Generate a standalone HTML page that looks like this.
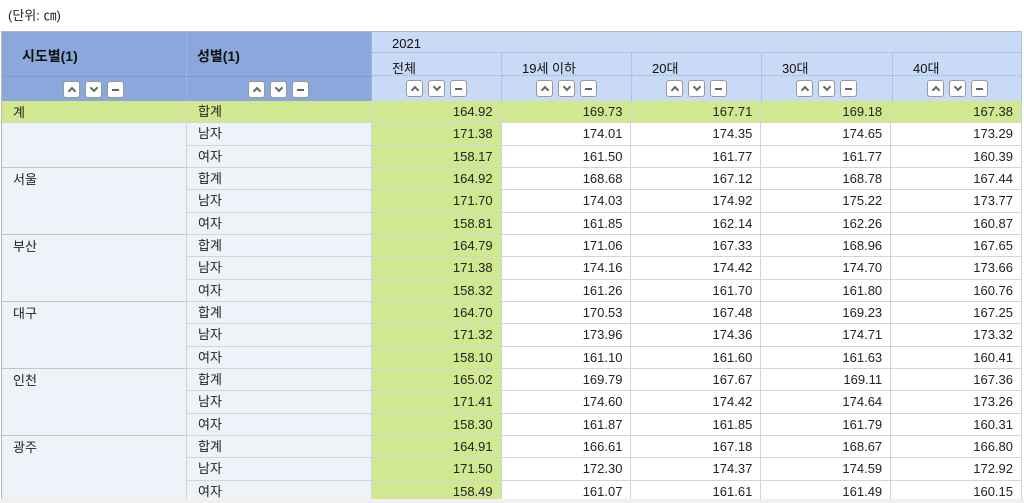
<!DOCTYPE html>
<html><head><meta charset="utf-8"><style>
*{box-sizing:border-box;margin:0;padding:0}
body{width:1024px;height:503px;overflow:hidden;background:#fff;font-family:"Liberation Sans","Noto Sans CJK KR",sans-serif;font-size:13px;color:#222;position:relative}
.unit{position:absolute;left:8px;top:5px;font-size:13px}
.a{position:absolute}
.hd{background:#8aa8dc;border-right:1px solid #a0b4d8;font-weight:bold;font-size:14px;color:#111}
.lh{background:#c9daf6;border-right:1px dotted #9aaed0;font-size:13px;color:#111}
.btns{position:absolute;top:4px;display:flex;gap:5px}
.btns span{position:relative;width:17px;height:17px;background:#fff;border:1px solid #999;border-radius:3px}
.btns span.u::after{content:"";position:absolute;left:5px;top:6px;width:4px;height:4px;border-left:2px solid #666;border-top:2px solid #666;transform:rotate(45deg)}
.btns span.d::after{content:"";position:absolute;left:5px;top:3px;width:4px;height:4px;border-right:2px solid #666;border-bottom:2px solid #666;transform:rotate(45deg)}
.btns span.m::after{content:"";position:absolute;left:4px;top:7px;width:7px;height:2px;background:#666}
.row{position:absolute;left:187px;height:22.33px;display:flex;width:835px}
.row div{height:100%;border-bottom:1px solid #d4d4d4;border-right:1px solid #d4d4d4;line-height:22px;padding-right:8px;text-align:right}
.row div:first-child{text-align:left;padding-left:11px;background:#eef3fa;width:185px}
.row div:nth-child(2){background:#d0e890;width:130px}
.row div:nth-child(3),.row div:nth-child(4),.row div:nth-child(5){width:130px}
.row div:nth-child(6){width:131px}
.row div:nth-child(7){width:129px}
.row.g div{background:#d0e890}
.c1{position:absolute;left:2px;width:185px;height:67px;background:#eef3fa;border-bottom:1px solid #c4c4c4;border-right:1px solid #d4d4d4;padding-left:11px;line-height:23px}
</style></head><body>
<div class="unit">(단위: ㎝)</div>
<div class="a" style="left:2px;top:31px;width:1020px;height:1px;background:#b8b8b8"></div>
<div class="a hd" style="left:2px;top:32px;width:185px;height:44px;padding:14px 0 0 20px">시도별(1)</div>
<div class="a hd" style="left:187px;top:32px;width:185px;height:44px;padding:14px 0 0 10px">성별(1)</div>
<div class="a hd" style="left:2px;top:76px;width:185px;height:25px;border-top:1px dotted #6f8fc8"><div class="btns" style="left:61px"><span class="u"></span><span class="d"></span><span class="m"></span></div></div>
<div class="a hd" style="left:187px;top:76px;width:185px;height:25px;border-top:1px dotted #6f8fc8"><div class="btns" style="left:61px"><span class="u"></span><span class="d"></span><span class="m"></span></div></div>
<div class="a lh" style="left:372px;top:32px;width:650px;height:21px;padding:4px 0 0 20px;border-bottom:1px dotted #9aaed0">2021</div>
<div class="a lh" style="left:372px;top:53px;width:130px;height:23px;padding:5px 0 0 20px;border-bottom:1px dotted #9aaed0">전체</div>
<div class="a lh" style="left:502px;top:53px;width:130px;height:23px;padding:5px 0 0 20px;border-bottom:1px dotted #9aaed0">19세 이하</div>
<div class="a lh" style="left:632px;top:53px;width:130px;height:23px;padding:5px 0 0 20px;border-bottom:1px dotted #9aaed0">20대</div>
<div class="a lh" style="left:762px;top:53px;width:131px;height:23px;padding:5px 0 0 20px;border-bottom:1px dotted #9aaed0">30대</div>
<div class="a lh" style="left:893px;top:53px;width:129px;height:23px;padding:5px 0 0 20px;border-bottom:1px dotted #9aaed0">40대</div>
<div class="a lh" style="left:372px;top:76px;width:130px;height:25px"><div class="btns" style="left:34px"><span class="u"></span><span class="d"></span><span class="m"></span></div></div>
<div class="a lh" style="left:502px;top:76px;width:130px;height:25px"><div class="btns" style="left:34px"><span class="u"></span><span class="d"></span><span class="m"></span></div></div>
<div class="a lh" style="left:632px;top:76px;width:130px;height:25px"><div class="btns" style="left:34px"><span class="u"></span><span class="d"></span><span class="m"></span></div></div>
<div class="a lh" style="left:762px;top:76px;width:131px;height:25px"><div class="btns" style="left:34px"><span class="u"></span><span class="d"></span><span class="m"></span></div></div>
<div class="a lh" style="left:893px;top:76px;width:129px;height:25px"><div class="btns" style="left:34px"><span class="u"></span><span class="d"></span><span class="m"></span></div></div>

<div class="c1" style="top:101px"></div>
<div class="c1" style="top:101px;height:22.33px;background:#d0e890;border-bottom:1px solid #d4d4d4">계</div>
<div class="c1" style="top:168px">서울</div>
<div class="c1" style="top:235px">부산</div>
<div class="c1" style="top:302px">대구</div>
<div class="c1" style="top:369px">인천</div>
<div class="c1" style="top:436px">광주</div>

<div class="row g" style="top:101px"><div>합계</div><div>164.92</div><div>169.73</div><div>167.71</div><div>169.18</div><div>167.38</div></div>
<div class="row" style="top:123.33px"><div>남자</div><div>171.38</div><div>174.01</div><div>174.35</div><div>174.65</div><div>173.29</div></div>
<div class="row" style="top:145.67px"><div>여자</div><div>158.17</div><div>161.50</div><div>161.77</div><div>161.77</div><div>160.39</div></div>
<div class="row" style="top:168px"><div>합계</div><div>164.92</div><div>168.68</div><div>167.12</div><div>168.78</div><div>167.44</div></div>
<div class="row" style="top:190.33px"><div>남자</div><div>171.70</div><div>174.03</div><div>174.92</div><div>175.22</div><div>173.77</div></div>
<div class="row" style="top:212.67px"><div>여자</div><div>158.81</div><div>161.85</div><div>162.14</div><div>162.26</div><div>160.87</div></div>
<div class="row" style="top:235px"><div>합계</div><div>164.79</div><div>171.06</div><div>167.33</div><div>168.96</div><div>167.65</div></div>
<div class="row" style="top:257.33px"><div>남자</div><div>171.38</div><div>174.16</div><div>174.42</div><div>174.70</div><div>173.66</div></div>
<div class="row" style="top:279.67px"><div>여자</div><div>158.32</div><div>161.26</div><div>161.70</div><div>161.80</div><div>160.76</div></div>
<div class="row" style="top:302px"><div>합계</div><div>164.70</div><div>170.53</div><div>167.48</div><div>169.23</div><div>167.25</div></div>
<div class="row" style="top:324.33px"><div>남자</div><div>171.32</div><div>173.96</div><div>174.36</div><div>174.71</div><div>173.32</div></div>
<div class="row" style="top:346.67px"><div>여자</div><div>158.10</div><div>161.10</div><div>161.60</div><div>161.63</div><div>160.41</div></div>
<div class="row" style="top:369px"><div>합계</div><div>165.02</div><div>169.79</div><div>167.67</div><div>169.11</div><div>167.36</div></div>
<div class="row" style="top:391.33px"><div>남자</div><div>171.41</div><div>174.60</div><div>174.42</div><div>174.64</div><div>173.26</div></div>
<div class="row" style="top:413.67px"><div>여자</div><div>158.30</div><div>161.87</div><div>161.85</div><div>161.79</div><div>160.31</div></div>
<div class="row" style="top:436px"><div>합계</div><div>164.91</div><div>166.61</div><div>167.18</div><div>168.67</div><div>166.80</div></div>
<div class="row" style="top:458.33px"><div>남자</div><div>171.50</div><div>172.30</div><div>174.37</div><div>174.59</div><div>172.92</div></div>
<div class="row" style="top:480.67px"><div>여자</div><div>158.49</div><div>161.07</div><div>161.61</div><div>161.49</div><div>160.15</div></div>
<div class="a" style="left:0;top:31px;width:2px;height:472px;background:#fff;border-right:1px solid #b8b8b8"></div>
<div class="a" style="left:0;top:499px;width:1024px;height:4px;background:#f0f0f0"></div>
</body></html>
